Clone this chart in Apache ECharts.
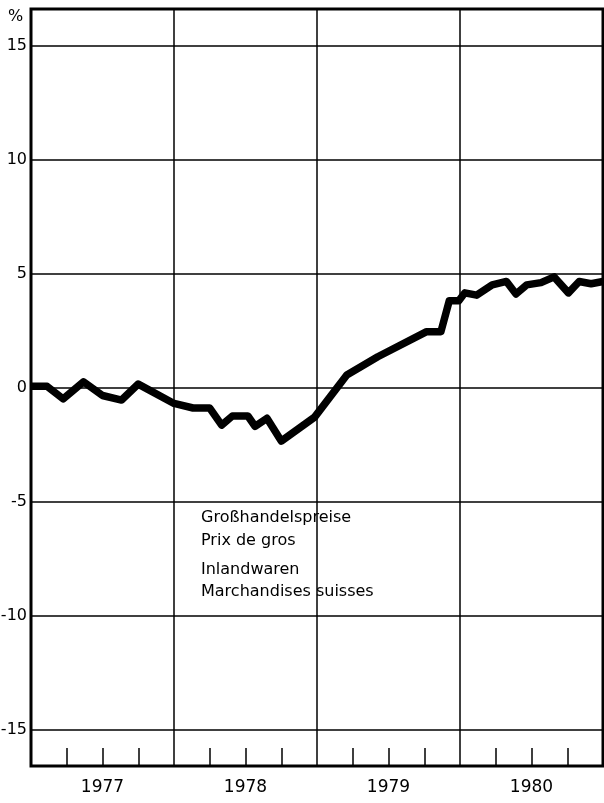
<!DOCTYPE html>
<html>
<head>
<meta charset="UTF-8">
<title>Großhandelspreise</title>
<style>
  html, body { margin: 0; padding: 0; background: #fff; }
  #chart { width: 604px; height: 803px; }
</style>
</head>
<body>
<div id="chart"></div>
<script src="https://cdn.jsdelivr.net/npm/echarts@6/dist/echarts.min.js"></script>
<script>
// months counted from Dec 1976 (0) to Dec 1980 (48)
var monthPos = [0, 1.35, 2.7, 4.4, 6.0, 7.6, 9.0, 12.0, 13.6, 15.0, 16.0, 16.9, 18.2, 18.8, 19.8, 21.0,
                23.8, 26.5, 29.1, 33.2, 34.4, 35.1, 35.9, 36.4, 37.4, 38.7, 39.9, 40.7, 41.6, 42.8,
                43.9, 45.1, 46.0, 47.0, 48];
var values = [0.05, 0.05, -0.5, 0.25, -0.35, -0.55, 0.15, -0.7, -0.9, -0.9, -1.65, -1.25, -1.25, -1.7, -1.35, -2.35,
              -1.3, 0.55, 1.35, 2.45, 2.45, 3.8, 3.8, 4.15, 4.05, 4.5, 4.65, 4.1, 4.5, 4.6,
              4.85, 4.15, 4.65, 4.55, 4.65];
var yearLabels = ['1977', '1978', '1979', '1980'];
var yTicks = [-15, -10, -5, 0, 5, 10, 15];
var textLines = ['Großhandelspreise', 'Prix de gros', 'Inlandwaren', 'Marchandises suisses'];

var FONT = '"DejaVu Sans", "Liberation Sans", Arial, sans-serif';
var chart = echarts.init(document.getElementById('chart'));

var seriesData = monthPos.map(function (m, i) { return [m, values[i]]; });
var textTops = [510, 533, 562, 584];

chart.setOption({
  animation: false,
  grid: {left: 31, right: 1, top: 9, bottom: 37, show: true, borderWidth: 3, borderColor: '#000',
         containLabel: false, outerBoundsMode: 'none'},
  xAxis: [{
    type: 'value', min: 0, max: 48, interval: 12,
    axisLine: {show: false, onZero: false},
    axisLabel: {show: false},
    axisTick: {show: false, inside: true},
    minorTick: {show: true, splitNumber: 4, length: 18, lineStyle: {color: '#000', width: 1.5}},
    splitLine: {show: true, lineStyle: {color: '#000', width: 1.5}}
  }, {
    type: 'category', data: yearLabels, position: 'bottom', boundaryGap: true,
    axisLine: {show: false, onZero: false}, axisTick: {show: false},
    axisLabel: {color: '#000', fontSize: 17, fontFamily: FONT, margin: 13}
  }],
  yAxis: {
    type: 'value', min: -16.6, max: 16.6,
    axisLine: {show: false},
    axisTick: {show: false, customValues: yTicks},
    axisLabel: {customValues: yTicks, color: '#000', fontSize: 16, fontFamily: FONT, margin: 4},
    splitLine: {show: true, lineStyle: {color: '#000', width: 1.5}}
  },
  series: [{
    type: 'line', xAxisIndex: 0, data: seriesData,
    showSymbol: false, silent: true,
    lineStyle: {color: '#000', width: 7.5, join: 'round'}
  }],
  graphic: [{
    type: 'text', left: 8, top: 9,
    style: {text: '%', font: '16px ' + FONT, fill: '#000'}
  }].concat(textLines.map(function (t, i) {
    return {type: 'text', left: 201, top: textTops[i], style: {text: t, font: '16px ' + FONT, fill: '#000'}};
  }))
});
</script>
</body>
</html>
